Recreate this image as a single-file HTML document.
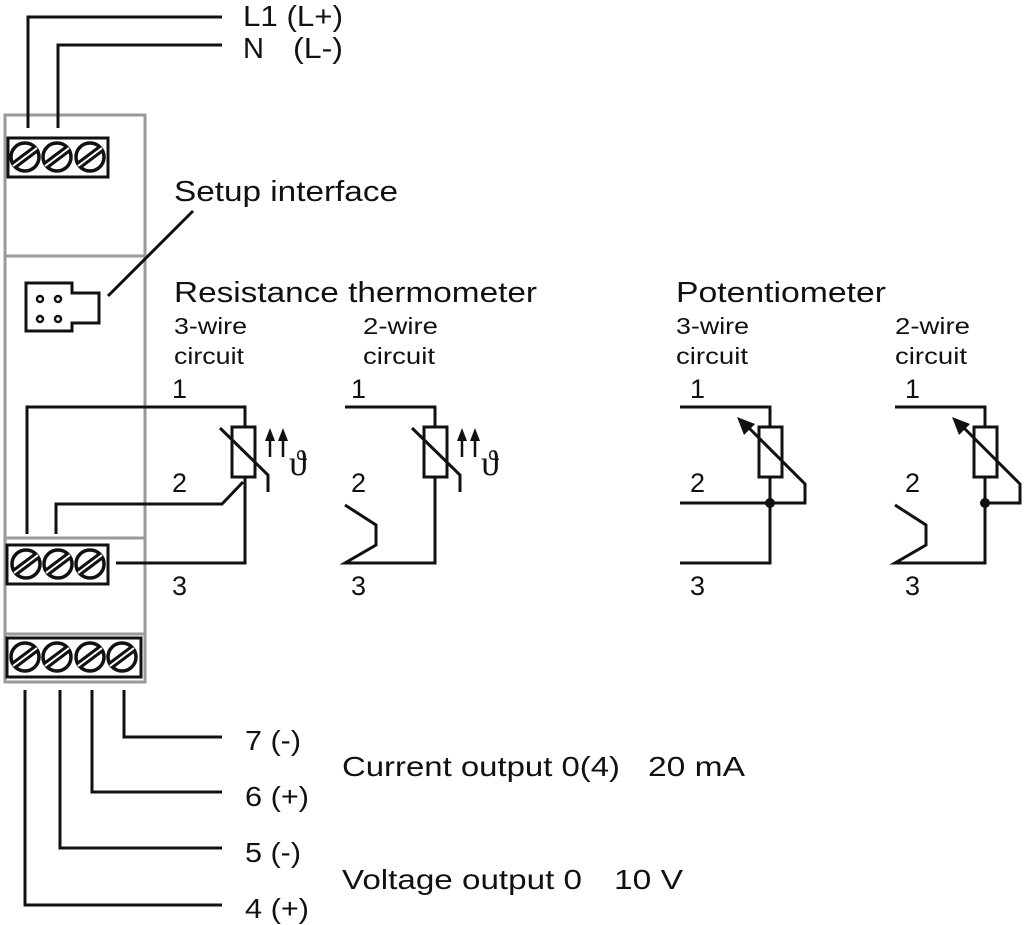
<!DOCTYPE html>
<html><head><meta charset="utf-8"><style>
html,body{margin:0;padding:0;background:#fff}
svg{display:block}
text{font-family:"Liberation Sans",sans-serif;fill:#111}
</style></head><body>
<svg width="1024" height="925" viewBox="0 0 1024 925" xmlns="http://www.w3.org/2000/svg">
<defs>
<g id="screw">
<circle cx="0" cy="0" r="14" fill="#fff" stroke="#111" stroke-width="3.5"/>
<line x1="-12" y1="9" x2="12" y2="-9" stroke="#111" stroke-width="8"/>
<line x1="-12" y1="9" x2="12" y2="-9" stroke="#fff" stroke-width="2"/>
</g>
</defs>
<!-- housing -->
<g fill="none" stroke="#9a9a9a" stroke-width="3">
<rect x="5" y="115" width="140" height="567"/>
<line x1="5" y1="256" x2="145" y2="256"/>
<line x1="5" y1="538" x2="145" y2="538"/>
<line x1="5" y1="634" x2="145" y2="634"/>
</g>
<g fill="none" stroke="#111" stroke-width="3">
<polyline points="28,128 28,17 222,17"/>
<polyline points="58,128 58,45 222,45"/>
<rect x="8" y="138" width="100" height="39" fill="#fff"/>
<rect x="7" y="545" width="101" height="39" fill="#fff"/>
<rect x="7" y="638" width="134" height="39" fill="#fff"/>
<polygon points="26,283 72,283 72,293 99,293 99,323 72,323 72,331 26,331"/>
<line x1="108" y1="296" x2="193" y2="211"/>
<polyline points="27,534 27,407 245,407 245,427"/>
<rect x="232" y="427" width="23" height="50"/>
<polyline points="245,477 245,563 116,563"/>
<polyline points="56,534 56,504 222,504 243,482"/>
<polyline points="220,428 268,475 268,492"/>
<polyline points="345,407 435,407 435,427"/>
<rect x="424" y="427" width="23" height="50"/>
<polyline points="435,477 435,563 345,563 376,545 376,525 345,505"/>
<polyline points="412,428 460,475 460,492"/>
<polyline points="680,407 770,407 770,427"/>
<rect x="759" y="427" width="23" height="50"/>
<polyline points="770,477 770,563 680,563"/>
<polyline points="680,503 805,503 805,484 745,424"/>
<polyline points="895,407 985,407 985,427"/>
<rect x="974" y="427" width="23" height="50"/>
<polyline points="985,477 985,563 895,563 926,545 926,525 895,505"/>
<polyline points="985,503 1020,503 1020,484 960,424"/>
<polyline points="124,690 124,737 222,737"/>
<polyline points="92,690 92,792 222,792"/>
<polyline points="60,690 60,848 222,848"/>
<polyline points="25,690 25,905 222,905"/>
</g>
<polygon points="737,417 755,424 744,435" fill="#111"/>
<polygon points="952,417 970,424 959,435" fill="#111"/>
<circle cx="770" cy="503" r="5" fill="#111"/>
<circle cx="985" cy="503" r="5" fill="#111"/>
<g stroke="#111" stroke-width="2.5">
<line x1="270" y1="457" x2="270" y2="438"/><line x1="283" y1="457" x2="283" y2="438"/>
<line x1="462" y1="457" x2="462" y2="438"/><line x1="475" y1="457" x2="475" y2="438"/>
</g>
<g fill="#111">
<polygon points="265,441 275,441 270,428"/><polygon points="278,441 288,441 283,428"/>
<polygon points="457,441 467,441 462,428"/><polygon points="470,441 480,441 475,428"/>
</g>
<text x="289" y="475" style="font-family:'Liberation Serif',serif" font-size="36">ϑ</text>
<text x="481" y="475" style="font-family:'Liberation Serif',serif" font-size="36">ϑ</text>
<g fill="none" stroke="#111" stroke-width="2.5">
<circle cx="40" cy="299" r="3"/><circle cx="58" cy="299" r="3"/>
<circle cx="40" cy="319" r="3"/><circle cx="58" cy="319" r="3"/>
</g>
<use href="#screw" x="25" y="157"/><use href="#screw" x="57" y="157"/><use href="#screw" x="90" y="157"/>
<use href="#screw" x="26" y="564"/><use href="#screw" x="58" y="564"/><use href="#screw" x="90" y="564"/>
<use href="#screw" x="25" y="657"/><use href="#screw" x="57" y="657"/><use href="#screw" x="90" y="657"/><use href="#screw" x="122" y="657"/>
<g font-size="29">
<text x="243" y="26" textLength="100" lengthAdjust="spacingAndGlyphs">L1 (L+)</text>
<text x="243" y="58">N</text><text x="293" y="58" textLength="50" lengthAdjust="spacingAndGlyphs">(L-)</text>
<text x="174" y="201" textLength="224" lengthAdjust="spacingAndGlyphs">Setup interface</text>
<text x="174" y="302" textLength="363" lengthAdjust="spacingAndGlyphs">Resistance thermometer</text>
<text x="676" y="302" textLength="210" lengthAdjust="spacingAndGlyphs">Potentiometer</text>
</g>
<g font-size="23">
<text x="174" y="334" textLength="73" lengthAdjust="spacingAndGlyphs">3-wire</text><text x="174" y="364" textLength="70" lengthAdjust="spacingAndGlyphs">circuit</text>
<text x="363" y="334" textLength="75" lengthAdjust="spacingAndGlyphs">2-wire</text><text x="363" y="364" textLength="72" lengthAdjust="spacingAndGlyphs">circuit</text>
<text x="676" y="334" textLength="73" lengthAdjust="spacingAndGlyphs">3-wire</text><text x="676" y="364" textLength="72" lengthAdjust="spacingAndGlyphs">circuit</text>
<text x="895" y="334" textLength="75" lengthAdjust="spacingAndGlyphs">2-wire</text><text x="895" y="364" textLength="72" lengthAdjust="spacingAndGlyphs">circuit</text>
</g>
<g font-size="27">
<text x="172" y="398">1</text><text x="172" y="492">2</text><text x="172" y="595">3</text>
<text x="351" y="398">1</text><text x="351" y="492">2</text><text x="351" y="595">3</text>
<text x="690" y="398">1</text><text x="690" y="492">2</text><text x="690" y="595">3</text>
<text x="905" y="398">1</text><text x="905" y="492">2</text><text x="905" y="595">3</text>
</g>
<g font-size="28">
<text x="245" y="750" textLength="56" lengthAdjust="spacingAndGlyphs">7 (-)</text>
<text x="245" y="806" textLength="64" lengthAdjust="spacingAndGlyphs">6 (+)</text>
<text x="245" y="862" textLength="56" lengthAdjust="spacingAndGlyphs">5 (-)</text>
<text x="245" y="918" textLength="64" lengthAdjust="spacingAndGlyphs">4 (+)</text>
<text x="342" y="776" textLength="278" lengthAdjust="spacingAndGlyphs">Current output 0(4)</text>
<text x="648" y="776" textLength="97" lengthAdjust="spacingAndGlyphs">20 mA</text>
<text x="342" y="889" textLength="240" lengthAdjust="spacingAndGlyphs">Voltage output 0</text>
<text x="614" y="889" textLength="69" lengthAdjust="spacingAndGlyphs">10 V</text>
</g>
</svg>
</body></html>
